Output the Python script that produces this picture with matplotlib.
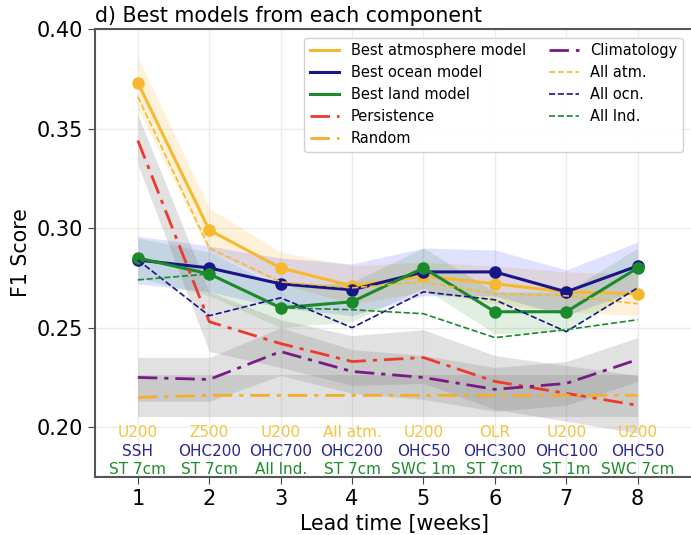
import matplotlib
matplotlib.use("Agg")
import matplotlib.pyplot as plt
import matplotlib.transforms as mtransforms

weeks = [1, 2, 3, 4, 5, 6, 7, 8]

# best models
atm = [0.373, 0.299, 0.280, 0.271, 0.276, 0.272, 0.268, 0.267]
ocn = [0.284, 0.280, 0.272, 0.269, 0.278, 0.278, 0.268, 0.281]
lnd = [0.285, 0.277, 0.260, 0.263, 0.280, 0.258, 0.258, 0.280]

# baselines
pers = [0.344, 0.253, 0.242, 0.233, 0.235, 0.223, 0.217, 0.211]
clim = [0.225, 0.224, 0.238, 0.228, 0.225, 0.219, 0.222, 0.234]
rand = [0.215, 0.216, 0.216, 0.216, 0.216, 0.216, 0.216, 0.216]

# "all variables" models
all_atm = [0.366, 0.290, 0.273, 0.270, 0.273, 0.267, 0.266, 0.262]
all_ocn = [0.284, 0.256, 0.265, 0.250, 0.268, 0.264, 0.248, 0.270]
all_lnd = [0.274, 0.277, 0.260, 0.259, 0.257, 0.245, 0.249, 0.254]

# uncertainty bands
atm_lo = [0.360, 0.288, 0.272, 0.262, 0.268, 0.262, 0.258, 0.256]
atm_hi = [0.386, 0.310, 0.288, 0.281, 0.283, 0.281, 0.278, 0.277]
ocn_lo = [0.272, 0.268, 0.260, 0.256, 0.266, 0.266, 0.256, 0.269]
ocn_hi = [0.296, 0.291, 0.285, 0.282, 0.290, 0.289, 0.279, 0.293]
lnd_lo = [0.275, 0.266, 0.250, 0.253, 0.270, 0.247, 0.248, 0.270]
lnd_hi = [0.295, 0.288, 0.270, 0.273, 0.290, 0.268, 0.268, 0.290]
pers_lo = [0.332, 0.238, 0.230, 0.221, 0.222, 0.209, 0.203, 0.197]
pers_hi = [0.357, 0.268, 0.254, 0.246, 0.249, 0.236, 0.231, 0.226]
clim_lo = [0.213, 0.213, 0.226, 0.217, 0.214, 0.208, 0.211, 0.223]
clim_hi = [0.235, 0.235, 0.250, 0.239, 0.236, 0.230, 0.233, 0.245]
rand_lo = [0.205, 0.205, 0.205, 0.205, 0.205, 0.205, 0.205, 0.205]
rand_hi = [0.226, 0.226, 0.226, 0.226, 0.226, 0.226, 0.226, 0.226]

# best predictor labels per week
atm_lab = ["U200", "Z500", "U200", "All atm.", "U200", "OLR", "U200", "U200"]
ocn_lab = ["SSH", "OHC200", "OHC700", "OHC200", "OHC50", "OHC300", "OHC100", "OHC50"]
lnd_lab = ["ST 7cm", "ST 7cm", "All lnd.", "ST 7cm", "SWC 1m", "ST 7cm", "ST 1m", "SWC 7cm"]

c_atm = "#f5b82e"
c_ocn = "#17158a"
c_lnd = "#1a8a2a"
c_pers = "#ee3a2c"
c_rand = "#f5ad2a"
c_clim = "#7a1a86"
dashdot = (0, (7, 2.5, 1.5, 2.5))

fig = plt.figure(figsize=(6.91, 5.35), dpi=100)
ax = fig.add_axes([0.1375, 0.1084, 0.868, 0.8374])

# shaded bands
ax.fill_between(weeks, atm_lo, atm_hi, color=c_atm, alpha=0.18, lw=0)
ax.fill_between(weeks, ocn_lo, ocn_hi, color="blue", alpha=0.12, lw=0)
ax.fill_between(weeks, lnd_lo, lnd_hi, color="green", alpha=0.12, lw=0)
ax.fill_between(weeks, pers_lo, pers_hi, color="gray", alpha=0.23, lw=0)
ax.fill_between(weeks, clim_lo, clim_hi, color="gray", alpha=0.23, lw=0)
ax.fill_between(weeks, rand_lo, rand_hi, color="gray", alpha=0.23, lw=0)

# lines
ax.plot(weeks, atm, color=c_atm, lw=2.2, marker="o", ms=8)
ax.plot(weeks, ocn, color=c_ocn, lw=2.2, marker="o", ms=8)
ax.plot(weeks, lnd, color=c_lnd, lw=2.2, marker="o", ms=8)
ax.plot(weeks, pers, color=c_pers, lw=2, ls=dashdot)
ax.plot(weeks, rand, color=c_rand, lw=2, ls=dashdot)
ax.plot(weeks, clim, color=c_clim, lw=2, ls=dashdot)
ax.plot(weeks, all_atm, color=c_atm, lw=1.2, ls="--")
ax.plot(weeks, all_ocn, color=c_ocn, lw=1.2, ls="--")
ax.plot(weeks, all_lnd, color=c_lnd, lw=1.2, ls="--")

# legend handles without markers
leg_handles = [
    plt.Line2D([], [], color=c_atm, lw=2.2),
    plt.Line2D([], [], color=c_ocn, lw=2.2),
    plt.Line2D([], [], color=c_lnd, lw=2.2),
    plt.Line2D([], [], color=c_pers, lw=2, ls=dashdot),
    plt.Line2D([], [], color=c_rand, lw=2, ls=dashdot),
    plt.Line2D([], [], color=c_clim, lw=2, ls=dashdot),
    plt.Line2D([], [], color=c_atm, lw=1.2, ls="--"),
    plt.Line2D([], [], color=c_ocn, lw=1.2, ls="--"),
    plt.Line2D([], [], color=c_lnd, lw=1.2, ls="--"),
]
leg_labels = ["Best atmosphere model", "Best ocean model", "Best land model",
              "Persistence", "Random", "Climatology", "All atm.", "All ocn.", "All lnd."]
ax.legend(leg_handles, leg_labels, ncol=2, loc="upper right", fontsize=10.5,
          bbox_to_anchor=(0.993, 0.997), handlelength=2.0, columnspacing=1.6,
          labelspacing=0.48, framealpha=0.9)

# predictor labels under curves
trans = mtransforms.blended_transform_factory(ax.transData, ax.transAxes)
for w, a, o, l in zip(weeks, atm_lab, ocn_lab, lnd_lab):
    ax.text(w, 0.100, a, color="#f2c440", fontsize=11, ha="center", va="center", transform=trans)
    ax.text(w, 0.058, o, color="#2b268f", fontsize=11, ha="center", va="center", transform=trans)
    ax.text(w, 0.016, l, color="#1e8c2e", fontsize=11, ha="center", va="center", transform=trans)

ax.set_xlim(0.4, 8.8)
ax.set_ylim(0.175, 0.40)
ax.set_xticks(weeks)
ax.set_yticks([0.20, 0.25, 0.30, 0.35, 0.40])
ax.tick_params(labelsize=15, length=5, color="#444444")
ax.grid(True, color="#ececec", lw=1)
ax.set_axisbelow(True)
for s in ["left", "bottom", "top"]:
    ax.spines[s].set_color("#555555")
    ax.spines[s].set_linewidth(1.5)
ax.spines["right"].set_visible(False)

ax.set_xlabel("Lead time [weeks]", fontsize=14.8)
ax.set_ylabel("F1 Score", fontsize=14.8)
ax.set_title("d) Best models from each component", loc="left", fontsize=14.8, pad=5)

fig.savefig("out.png", dpi=100)
